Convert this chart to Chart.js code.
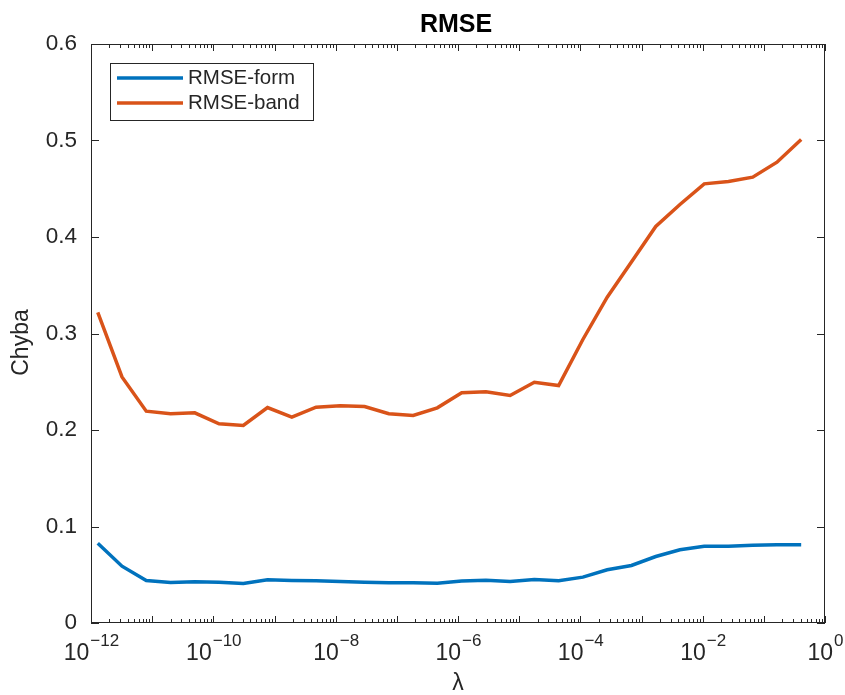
<!DOCTYPE html>
<html>
<head>
<meta charset="utf-8">
<script src="https://cdn.jsdelivr.net/npm/chart.js@4.4.1/dist/chart.umd.min.js"></script>
<style>
  body { margin: 0; background: #fff; }
  canvas { display: block; }
</style>
</head>
<body>
<canvas id="myChart" width="845" height="695"></canvas>
<script>
// Regularization parameter values (log-spaced)
const lambdas = [
  1.29e-12, 3.21e-12, 8.00e-12, 2.00e-11, 4.97e-11, 1.24e-10, 3.09e-10, 7.69e-10,
  1.92e-9, 4.78e-9, 1.19e-8, 2.97e-8, 7.40e-8, 1.85e-7, 4.59e-7, 1.15e-6,
  2.86e-6, 7.11e-6, 1.77e-5, 4.42e-5, 1.10e-4, 2.75e-4, 6.84e-4, 1.71e-3,
  4.25e-3, 1.06e-2, 2.64e-2, 6.58e-2, 0.164, 0.408
];

const rmseForm = [
  0.0827, 0.0589, 0.0440, 0.0420, 0.0427, 0.0423, 0.0409, 0.0448,
  0.0440, 0.0437, 0.0430, 0.0423, 0.0416, 0.0416, 0.0413, 0.0434,
  0.0444, 0.0430, 0.0451, 0.0437, 0.0475, 0.0551, 0.0596, 0.0689,
  0.0759, 0.0796, 0.0796, 0.0806, 0.0810, 0.0810
];

const rmseBand = [
  0.322, 0.255, 0.2195, 0.2168, 0.2178, 0.2064, 0.2047, 0.2233,
  0.2133, 0.2236, 0.2252, 0.2244, 0.2168, 0.2150, 0.2230, 0.2385,
  0.2396, 0.2358, 0.2495, 0.2461, 0.2938, 0.3376, 0.374, 0.4109,
  0.4337, 0.4551, 0.4575, 0.4620, 0.4775, 0.501
];

const seriesNames = ["RMSE-form", "RMSE-band"];
const seriesColors = ["#0072BD", "#D95319"];

const yTicks = [0, 0.1, 0.2, 0.3, 0.4, 0.5, 0.6];
const yTickLabels = ["0", "0.1", "0.2", "0.3", "0.4", "0.5", "0.6"];
const xTickExponents = [-12, -10, -8, -6, -4, -2, 0];

const FONT = "'Liberation Sans', Arial, Helvetica, sans-serif";
const AXIS_COLOR = "#262626";

// MATLAB-like axes: box, inward ticks on all four sides, labels, title, legend
const matlabAxes = {
  id: "matlabAxes",
  afterDraw(chart) {
    const ctx = chart.ctx;
    const { left, right, top, bottom } = chart.chartArea;
    const xs = chart.scales.x;
    const ys = chart.scales.y;

    ctx.save();
    ctx.strokeStyle = AXIS_COLOR;
    ctx.fillStyle = AXIS_COLOR;
    ctx.lineWidth = 1;

    // box
    ctx.strokeRect(left + 0.5, top + 0.5, right - left - 1, bottom - top - 1);

    // x ticks (major + minor), bottom and top
    ctx.beginPath();
    for (let e = -12; e <= 0; e++) {
      const px = Math.round(xs.getPixelForValue(Math.pow(10, e))) + 0.5;
      ctx.moveTo(px, bottom); ctx.lineTo(px, bottom - 7);
      ctx.moveTo(px, top); ctx.lineTo(px, top + 7);
      if (e < 0) {
        for (let m = 2; m <= 9; m++) {
          const mx = Math.round(xs.getPixelForValue(m * Math.pow(10, e))) + 0.5;
          ctx.moveTo(mx, bottom); ctx.lineTo(mx, bottom - 4);
          ctx.moveTo(mx, top); ctx.lineTo(mx, top + 4);
        }
      }
    }
    // y ticks, left and right
    yTicks.forEach(v => {
      const py = Math.round(ys.getPixelForValue(v)) + 0.5;
      ctx.moveTo(left, py); ctx.lineTo(left + 8, py);
      ctx.moveTo(right, py); ctx.lineTo(right - 8, py);
    });
    ctx.stroke();

    // y tick labels
    ctx.font = "22.5px " + FONT;
    ctx.textAlign = "right";
    ctx.textBaseline = "middle";
    yTicks.forEach((v, i) => {
      ctx.fillText(yTickLabels[i], left - 14, ys.getPixelForValue(v));
    });

    // x tick labels as 10^e (TeX-style minus sign in the exponent)
    xTickExponents.forEach(e => {
      const px = xs.getPixelForValue(Math.pow(10, e));
      const expText = String(e).replace("-", "\u2212");
      ctx.font = "23px " + FONT;
      const wBase = ctx.measureText("10").width;
      ctx.font = "17px " + FONT;
      const wExp = ctx.measureText(expText).width;
      const x0 = px - (wBase + wExp) / 2;
      ctx.textAlign = "left";
      ctx.textBaseline = "middle";
      ctx.font = "23px " + FONT;
      ctx.fillText("10", x0, bottom + 31);
      ctx.font = "17px " + FONT;
      ctx.fillText(expText, x0 + wBase + 1, bottom + 18);
    });

    // axis labels
    ctx.textAlign = "center";
    ctx.font = "23px " + FONT;
    ctx.fillText("\u03bb", (left + right) / 2, bottom + 61);
    ctx.save();
    ctx.translate(22, (top + bottom) / 2 + 9);
    ctx.rotate(-Math.PI / 2);
    ctx.fillText("Chyba", 0, 0);
    ctx.restore();

    // title
    ctx.fillStyle = "#000";
    ctx.font = "bold 25px " + FONT;
    ctx.fillText("RMSE", (left + right) / 2 - 2, 25);

    // legend
    const lx = 110, ly = 63, lw = 203, lh = 57;
    ctx.fillStyle = "#fff";
    ctx.fillRect(lx, ly, lw, lh);
    ctx.strokeStyle = AXIS_COLOR;
    ctx.lineWidth = 1;
    ctx.strokeRect(lx + 0.5, ly + 0.5, lw, lh);
    ctx.font = "20.5px " + FONT;
    ctx.textAlign = "left";
    ctx.textBaseline = "middle";
    seriesNames.forEach((name, i) => {
      const yy = ly + 15 + i * 25;
      ctx.strokeStyle = seriesColors[i];
      ctx.lineWidth = 3.5;
      ctx.beginPath();
      ctx.moveTo(lx + 7, yy);
      ctx.lineTo(lx + 73, yy);
      ctx.stroke();
      ctx.fillStyle = AXIS_COLOR;
      ctx.fillText(name, lx + 78, yy);
    });

    ctx.restore();
  }
};

const ctx = document.getElementById("myChart").getContext("2d");

new Chart(ctx, {
  type: "line",
  data: {
    datasets: [
      {
        label: seriesNames[0],
        data: lambdas.map((x, i) => ({ x: x, y: rmseForm[i] })),
        borderColor: seriesColors[0],
        borderWidth: 3.5,
        pointRadius: 0,
        tension: 0,
      },
      {
        label: seriesNames[1],
        data: lambdas.map((x, i) => ({ x: x, y: rmseBand[i] })),
        borderColor: seriesColors[1],
        borderWidth: 3.5,
        pointRadius: 0,
        tension: 0,
      },
    ],
  },
  options: {
    responsive: false,
    animation: false,
    devicePixelRatio: 1,
    layout: { padding: { left: 91, top: 44, right: 20, bottom: 72 } },
    plugins: {
      legend: { display: false },
      title: { display: false },
      tooltip: { enabled: false },
    },
    scales: {
      x: { type: "logarithmic", min: 1e-12, max: 1, display: false },
      y: { type: "linear", min: 0, max: 0.6, display: false },
    },
  },
  plugins: [matlabAxes],
});
</script>
</body>
</html>
